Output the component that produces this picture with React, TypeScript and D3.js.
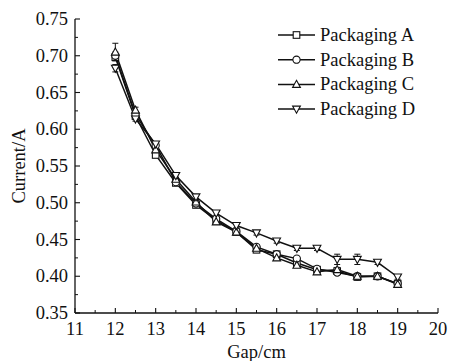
import React from "react";
import * as d3 from "d3";

const gaps = [12, 12.5, 13, 13.5, 14, 14.5, 15, 15.5, 16, 16.5, 17, 17.5, 18, 18.5, 19];
const seriesNames = ["Packaging A", "Packaging B", "Packaging C", "Packaging D"];
const valuesA = [0.698, 0.618, 0.565, 0.527, 0.497, 0.476, 0.46, 0.436, 0.43, 0.418, 0.409, 0.407, 0.399, 0.4, 0.39];
const valuesB = [0.7, 0.62, 0.578, 0.528, 0.499, 0.478, 0.461, 0.44, 0.43, 0.424, 0.41, 0.405, 0.4, 0.4, 0.39];
const valuesC = [0.705, 0.626, 0.572, 0.532, 0.501, 0.474, 0.46, 0.438, 0.425, 0.415, 0.406, 0.409, 0.4, 0.4, 0.389];
const valuesD = [0.683, 0.614, 0.58, 0.537, 0.508, 0.486, 0.469, 0.459, 0.448, 0.438, 0.438, 0.423, 0.423, 0.419, 0.399];
const errA = [0.004, 0.003, 0.003, 0.003, 0.003, 0.003, 0.003, 0.003, 0.003, 0.003, 0.003, 0.003, 0.004, 0.003, 0.003];
const errB = [0.005, 0.003, 0.003, 0.003, 0.003, 0.003, 0.003, 0.003, 0.003, 0.003, 0.003, 0.003, 0.004, 0.003, 0.003];
const errC = [0.012, 0.004, 0.003, 0.003, 0.003, 0.003, 0.003, 0.003, 0.003, 0.003, 0.003, 0.003, 0.003, 0.003, 0.003];
const errD = [0.005, 0.003, 0.003, 0.003, 0.003, 0.003, 0.003, 0.003, 0.003, 0.003, 0.003, 0.007, 0.007, 0.003, 0.003];
const markers = ["square", "circle", "triangle", "triangleDown"];
const xTicks = [11, 12, 13, 14, 15, 16, 17, 18, 19, 20];
const yTicks = [0.35, 0.4, 0.45, 0.5, 0.55, 0.6, 0.65, 0.7, 0.75];

const allValues = [valuesA, valuesB, valuesC, valuesD];
const allErr = [errA, errB, errC, errD];

const W = 450, H = 361;
const left = 75, right = 438, top = 19, bottom = 313;
const font = "'Liberation Serif', 'Times New Roman', serif";
const fs = 18.5;

function Marker({ type, x, y }: { type: string; x: number; y: number }) {
  const s = 3.3;
  const st = { fill: "white", stroke: "#111", strokeWidth: 1.1 };
  if (type === "square") return <rect x={x - s} y={y - s} width={2 * s} height={2 * s} {...st} />;
  if (type === "circle") return <circle cx={x} cy={y} r={s + 0.3} {...st} />;
  if (type === "triangle")
    return <path d={`M${x},${y - s - 0.8}L${x + s + 0.6},${y + s - 0.3}L${x - s - 0.6},${y + s - 0.3}Z`} {...st} />;
  return <path d={`M${x},${y + s + 0.8}L${x + s + 0.6},${y - s + 0.3}L${x - s - 0.6},${y - s + 0.3}Z`} {...st} />;
}

export default function App() {
  const x = d3.scaleLinear().domain([11, 20]).range([left, right]);
  const y = d3.scaleLinear().domain([0.35, 0.75]).range([bottom, top]);
  const line = d3.line<number>().x((_, i) => x(gaps[i])).y((v) => y(v));
  const xMinor = d3.range(11.5, 20, 1);
  const yMinor = d3.range(0.375, 0.75, 0.05);

  return (
    <svg width={W} height={H} style={{ position: "absolute", left: 0, top: 0, background: "white" }}>
      <line x1={left} y1={top} x2={left} y2={bottom} stroke="#111" strokeWidth={1.3} />
      <line x1={left} y1={bottom} x2={right} y2={bottom} stroke="#111" strokeWidth={1.3} />
      {xTicks.map((t) => (
        <g key={"xt" + t}>
          <line x1={x(t)} x2={x(t)} y1={bottom} y2={bottom - 5} stroke="#111" strokeWidth={1.1} />
          <text x={x(t)} y={bottom + 22} textAnchor="middle" fontFamily={font} fontSize={fs} fill="#111">
            {t}
          </text>
        </g>
      ))}
      {xMinor.map((t) => (
        <line key={"xm" + t} x1={x(t)} x2={x(t)} y1={bottom} y2={bottom - 3} stroke="#111" strokeWidth={1} />
      ))}
      {yTicks.map((t) => (
        <g key={"yt" + t}>
          <line x1={left} x2={left + 5} y1={y(t)} y2={y(t)} stroke="#111" strokeWidth={1.1} />
          <text x={left - 7} y={y(t) + 6} textAnchor="end" fontFamily={font} fontSize={fs} fill="#111">
            {t.toFixed(2)}
          </text>
        </g>
      ))}
      {yMinor.map((t) => (
        <line key={"ym" + t} x1={left} x2={left + 3} y1={y(t)} y2={y(t)} stroke="#111" strokeWidth={1} />
      ))}
      <text x={(left + right) / 2} y={358} textAnchor="middle" fontFamily={font} fontSize={fs} fill="#111">
        Gap/cm
      </text>
      <text
        transform={`translate(25,${(top + bottom) / 2}) rotate(-90)`}
        textAnchor="middle"
        fontFamily={font}
        fontSize={fs}
        fill="#111"
      >
        Current/A
      </text>

      {allValues.map((vals, si) => (
        <path key={"l" + si} d={line(vals) || ""} fill="none" stroke="#111" strokeWidth={1.5} />
      ))}
      {allValues.map((vals, si) =>
        vals.map((v, i) => {
          const e = allErr[si][i];
          const cx = x(gaps[i]);
          return (
            <g key={"e" + si + "-" + i} stroke="#111" strokeWidth={1}>
              <line x1={cx} x2={cx} y1={y(v + e)} y2={y(v - e)} />
              <line x1={cx - 3} x2={cx + 3} y1={y(v + e)} y2={y(v + e)} />
              <line x1={cx - 3} x2={cx + 3} y1={y(v - e)} y2={y(v - e)} />
            </g>
          );
        })
      )}
      {allValues.map((vals, si) =>
        vals.map((v, i) => <Marker key={"m" + si + "-" + i} type={markers[si]} x={x(gaps[i])} y={y(v)} />)
      )}

      {seriesNames.map((name, i) => {
        const ly = 35 + i * 24.7;
        return (
          <g key={"lg" + i}>
            <line x1={278} x2={315} y1={ly} y2={ly} stroke="#111" strokeWidth={1.5} />
            <Marker type={markers[i]} x={296.5} y={ly} />
            <text x={320} y={ly + 6} fontFamily={font} fontSize={fs} fill="#111">
              {name}
            </text>
          </g>
        );
      })}
    </svg>
  );
}
